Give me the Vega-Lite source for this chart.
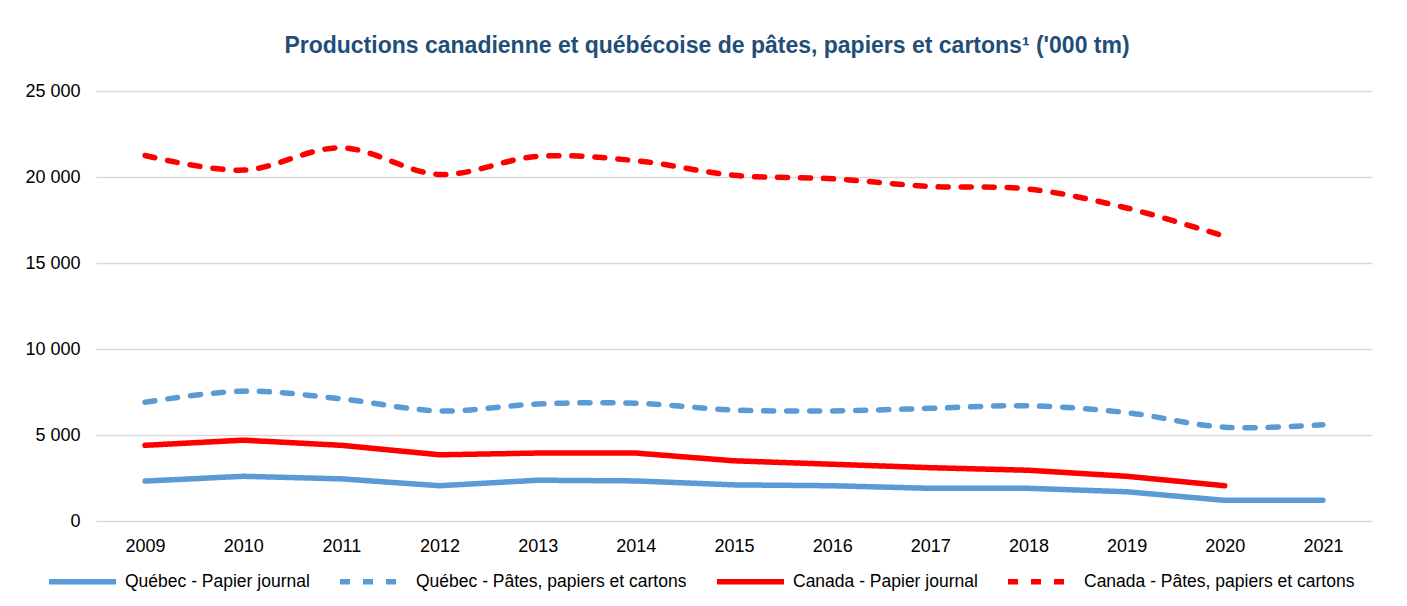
{
  "$schema": "https://vega.github.io/schema/vega-lite/v6.json",
  "width": 1276,
  "height": 430,
  "autosize": {"type": "none"},
  "padding": {"left": 96, "top": 91, "right": 35, "bottom": 85},
  "background": "white",
  "title": {
    "text": "Productions canadienne et québécoise de pâtes, papiers et cartons¹ ('000 tm)",
    "font": "Liberation Sans",
    "fontSize": 23,
    "fontWeight": "bold",
    "color": "#1F4E79",
    "anchor": "middle",
    "dx": -27,
    "offset": 24
  },
  "data": {
    "values": [
      {"year": "2009", "series": "Québec - Papier journal", "value": 2320},
      {"year": "2010", "series": "Québec - Papier journal", "value": 2600},
      {"year": "2011", "series": "Québec - Papier journal", "value": 2450},
      {"year": "2012", "series": "Québec - Papier journal", "value": 2050},
      {"year": "2013", "series": "Québec - Papier journal", "value": 2370},
      {"year": "2014", "series": "Québec - Papier journal", "value": 2330},
      {"year": "2015", "series": "Québec - Papier journal", "value": 2100},
      {"year": "2016", "series": "Québec - Papier journal", "value": 2050},
      {"year": "2017", "series": "Québec - Papier journal", "value": 1900},
      {"year": "2018", "series": "Québec - Papier journal", "value": 1900},
      {"year": "2019", "series": "Québec - Papier journal", "value": 1700},
      {"year": "2020", "series": "Québec - Papier journal", "value": 1200},
      {"year": "2021", "series": "Québec - Papier journal", "value": 1200},
      {"year": "2009", "series": "Québec - Pâtes, papiers et cartons", "value": 6900},
      {"year": "2010", "series": "Québec - Pâtes, papiers et cartons", "value": 7550},
      {"year": "2011", "series": "Québec - Pâtes, papiers et cartons", "value": 7100},
      {"year": "2012", "series": "Québec - Pâtes, papiers et cartons", "value": 6400},
      {"year": "2013", "series": "Québec - Pâtes, papiers et cartons", "value": 6800},
      {"year": "2014", "series": "Québec - Pâtes, papiers et cartons", "value": 6850},
      {"year": "2015", "series": "Québec - Pâtes, papiers et cartons", "value": 6450},
      {"year": "2016", "series": "Québec - Pâtes, papiers et cartons", "value": 6400},
      {"year": "2017", "series": "Québec - Pâtes, papiers et cartons", "value": 6550},
      {"year": "2018", "series": "Québec - Pâtes, papiers et cartons", "value": 6700},
      {"year": "2019", "series": "Québec - Pâtes, papiers et cartons", "value": 6300},
      {"year": "2020", "series": "Québec - Pâtes, papiers et cartons", "value": 5450},
      {"year": "2021", "series": "Québec - Pâtes, papiers et cartons", "value": 5600},
      {"year": "2009", "series": "Canada - Papier journal", "value": 4400},
      {"year": "2010", "series": "Canada - Papier journal", "value": 4700},
      {"year": "2011", "series": "Canada - Papier journal", "value": 4400},
      {"year": "2012", "series": "Canada - Papier journal", "value": 3850},
      {"year": "2013", "series": "Canada - Papier journal", "value": 3950},
      {"year": "2014", "series": "Canada - Papier journal", "value": 3950},
      {"year": "2015", "series": "Canada - Papier journal", "value": 3500},
      {"year": "2016", "series": "Canada - Papier journal", "value": 3300},
      {"year": "2017", "series": "Canada - Papier journal", "value": 3100},
      {"year": "2018", "series": "Canada - Papier journal", "value": 2950},
      {"year": "2019", "series": "Canada - Papier journal", "value": 2600},
      {"year": "2020", "series": "Canada - Papier journal", "value": 2050},
      {"year": "2009", "series": "Canada - Pâtes, papiers et cartons", "value": 21250},
      {"year": "2010", "series": "Canada - Pâtes, papiers et cartons", "value": 20400},
      {"year": "2011", "series": "Canada - Pâtes, papiers et cartons", "value": 21700},
      {"year": "2012", "series": "Canada - Pâtes, papiers et cartons", "value": 20150},
      {"year": "2013", "series": "Canada - Pâtes, papiers et cartons", "value": 21200},
      {"year": "2014", "series": "Canada - Pâtes, papiers et cartons", "value": 20950},
      {"year": "2015", "series": "Canada - Pâtes, papiers et cartons", "value": 20100},
      {"year": "2016", "series": "Canada - Pâtes, papiers et cartons", "value": 19900},
      {"year": "2017", "series": "Canada - Pâtes, papiers et cartons", "value": 19450},
      {"year": "2018", "series": "Canada - Pâtes, papiers et cartons", "value": 19300},
      {"year": "2019", "series": "Canada - Pâtes, papiers et cartons", "value": 18200},
      {"year": "2020", "series": "Canada - Pâtes, papiers et cartons", "value": 16550}
    ]
  },
  "encoding": {
    "x": {
      "field": "year",
      "type": "ordinal",
      "scale": {"type": "point", "padding": 0.5},
      "axis": {
        "title": null,
        "labelAngle": 0,
        "ticks": false,
        "domain": false,
        "grid": false,
        "labelPadding": 16,
        "labelFont": "Liberation Sans",
        "labelFontSize": 18,
        "labelColor": "#000000"
      }
    },
    "y": {
      "field": "value",
      "type": "quantitative",
      "scale": {"domain": [0, 25000], "nice": false},
      "axis": {
        "title": null,
        "values": [0, 5000, 10000, 15000, 20000, 25000],
        "labelExpr": "replace(format(datum.value, ','), ',', ' ')",
        "ticks": false,
        "domain": false,
        "gridColor": "#D9D9D9",
        "gridWidth": 1.5,
        "labelPadding": 16,
        "labelFont": "Liberation Sans",
        "labelFontSize": 18,
        "labelColor": "#000000"
      }
    },
    "color": {
      "field": "series",
      "type": "nominal",
      "scale": {
        "domain": ["Québec - Papier journal", "Québec - Pâtes, papiers et cartons", "Canada - Papier journal", "Canada - Pâtes, papiers et cartons"],
        "range": ["#5B9BD5", "#5B9BD5", "#FF0000", "#FF0000"]
      },
      "legend": {
        "title": null,
        "orient": "none",
        "direction": "horizontal",
        "columns": 4,
        "legendX": -50,
        "legendY": 454,
        "symbolType": "stroke",
        "symbolSize": 4489,
        "symbolStrokeWidth": 5.5,
        "labelFont": "Liberation Sans",
        "labelFontSize": 17.5,
        "labelColor": "#000000",
        "labelOffset": 6,
        "labelLimit": 400,
        "columnPadding": 19
      }
    },
    "strokeDash": {
      "field": "series",
      "type": "nominal",
      "scale": {
        "domain": ["Québec - Papier journal", "Québec - Pâtes, papiers et cartons", "Canada - Papier journal", "Canada - Pâtes, papiers et cartons"],
        "range": [[1, 0], [10, 13], [1, 0], [10, 13]]
      },
      "legend": {
        "title": null,
        "orient": "none",
        "direction": "horizontal",
        "columns": 4,
        "legendX": -50,
        "legendY": 454,
        "symbolType": "stroke",
        "symbolSize": 4489,
        "symbolStrokeWidth": 5.5,
        "labelFont": "Liberation Sans",
        "labelFontSize": 17.5,
        "labelColor": "#000000",
        "labelOffset": 6,
        "labelLimit": 400,
        "columnPadding": 19
      }
    }
  },
  "layer": [
    {
      "transform": [{"filter": "indexof(datum.series, 'Papier journal') >= 0"}],
      "mark": {"type": "line", "strokeWidth": 5.5, "strokeCap": "round", "strokeJoin": "round", "interpolate": "linear"}
    },
    {
      "transform": [{"filter": "indexof(datum.series, 'Papier journal') < 0"}],
      "mark": {"type": "line", "strokeWidth": 5.5, "strokeCap": "round", "strokeJoin": "round", "interpolate": "catmull-rom"}
    }
  ],
  "config": {
    "view": {"stroke": null},
    "legend": {"symbolStrokeWidth": 5.5}
  }
}
